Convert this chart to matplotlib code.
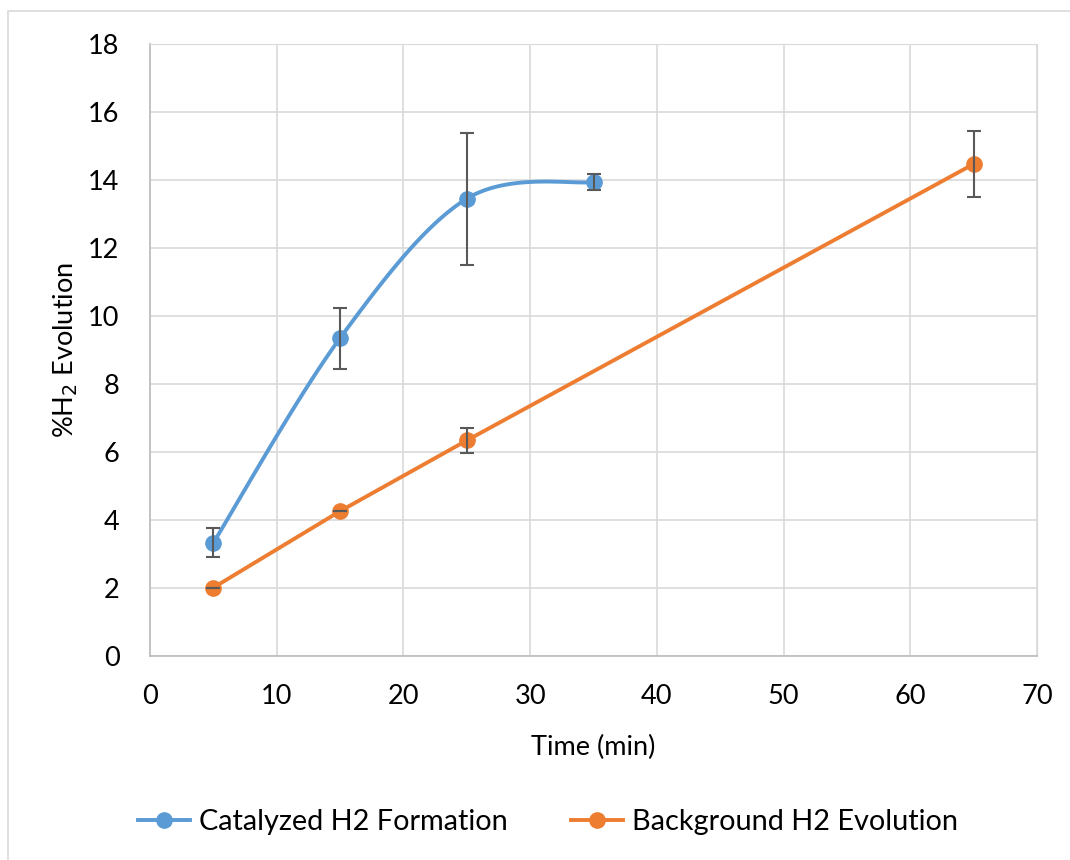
import matplotlib
matplotlib.use('Agg')
import matplotlib.pyplot as plt
from matplotlib.patches import Rectangle
import numpy as np

plt.rcParams['font.family'] = ['Lato', 'DejaVu Sans']

# данные
t_cat = [5, 15, 25, 35]
h2_cat = [3.33, 9.35, 13.45, 13.94]
err_cat = [0.43, 0.90, 1.94, 0.24]

t_bg = [5, 15, 25, 65]
h2_bg = [2.01, 4.26, 6.34, 14.47]
err_bg = [0.0, 0.0, 0.36, 0.96]

blue = '#5B9BD5'
orange = '#ED7D31'


def smooth(x, y, n=40):
    # сглаживание как в Excel: кривые Безье, касательные по соседним точкам
    x = np.asarray(x, float)
    y = np.asarray(y, float)
    px = np.concatenate([[x[0]], x, [x[-1]]])
    py = np.concatenate([[y[0]], y, [y[-1]]])
    s = np.linspace(0, 1, n)
    xs, ys = [], []
    for i in range(1, len(px) - 2):
        p0 = np.array([px[i], py[i]])
        p3 = np.array([px[i + 1], py[i + 1]])
        c1 = p0 + (p3 - np.array([px[i - 1], py[i - 1]])) / 6
        c2 = p3 - (np.array([px[i + 2], py[i + 2]]) - p0) / 6
        b = ((1 - s) ** 3)[:, None] * p0 + (3 * (1 - s) ** 2 * s)[:, None] * c1 \
            + (3 * (1 - s) * s ** 2)[:, None] * c2 + (s ** 3)[:, None] * p3
        xs.extend(b[:, 0])
        ys.extend(b[:, 1])
    return xs, ys


fig = plt.figure(figsize=(10.7, 8.6), dpi=100)
fig.patches.append(Rectangle((8 / 1070, -0.1), 1.2, 1 - 11 / 860 + 0.1,
                             transform=fig.transFigure, fill=False,
                             edgecolor='#d9d9d9', linewidth=1.2))
ax = fig.add_axes([150 / 1070, 1 - 656 / 860, 887 / 1070, 612 / 860])

sx, sy = smooth(t_cat, h2_cat)
ax.plot(sx, sy, color=blue, lw=2.8, zorder=3)
ax.plot(t_cat, h2_cat, 'o', color=blue, ms=11, zorder=4)
ax.errorbar(t_cat, h2_cat, yerr=err_cat, fmt='none', ecolor='#595959',
            elinewidth=1.5, capsize=5, capthick=1.5, zorder=5)

ax.plot(t_bg, h2_bg, '-', color=orange, lw=2.8, zorder=3)
ax.plot(t_bg, h2_bg, 'o', color=orange, ms=11, zorder=4)
ax.errorbar(t_bg, h2_bg, yerr=err_bg, fmt='none', ecolor='#595959',
            elinewidth=1.5, capsize=5, capthick=1.5, zorder=5)

ax.set_xlim(0, 70)
ax.set_ylim(0, 18)
ax.set_xticks(range(0, 71, 10))
ax.set_yticks(range(0, 19, 2))
ax.grid(True, color='#d9d9d9', lw=1.2)
ax.set_axisbelow(True)
for s in ['top', 'right']:
    ax.spines[s].set_color('#d9d9d9')
for s in ['left', 'bottom']:
    ax.spines[s].set_color('#bfbfbf')
    ax.spines[s].set_linewidth(1.3)
ax.tick_params(length=0, labelsize=19.5, colors='black')
ax.tick_params(axis='y', pad=22)
ax.tick_params(axis='x', pad=20)

ax.set_xlabel('Time (min)', fontsize=19.5, labelpad=19)
ax.set_ylabel('%H$_2$ Evolution', fontsize=19.5, labelpad=6)

h1 = ax.plot([], [], '-o', color=blue, lw=2.8, ms=11)[0]
h2 = ax.plot([], [], '-o', color=orange, lw=2.8, ms=11)[0]
fig.legend([h1, h2], ['Catalyzed H2 Formation', 'Background H2 Evolution'],
           loc='center', bbox_to_anchor=(0.512, 1 - 822 / 860), ncol=2,
           frameon=False, fontsize=20.8, handlelength=1.8, handletextpad=0.3,
           columnspacing=2.2)

fig.savefig('out.png', dpi=100)
